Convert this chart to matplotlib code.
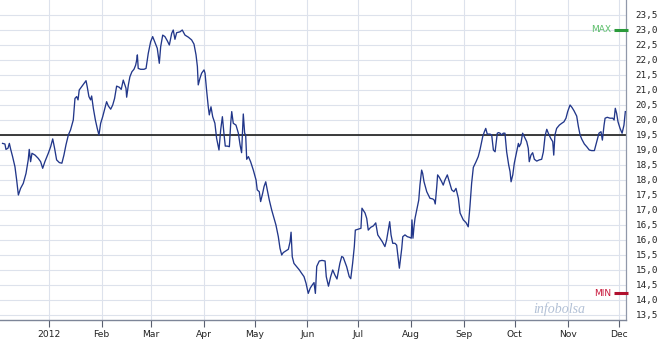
import numpy as np
import matplotlib
matplotlib.use('Agg')
import matplotlib.pyplot as plt
import matplotlib.dates as mdates
import matplotlib.ticker as mticker
import matplotlib.transforms as mtransforms
from datetime import datetime

# ---------------- data ----------------
start_date = datetime(2012, 1, 1)

day_offsets = [
    -27.3, -25.9, -25.3, -24.1, -23.3, -22.5, -21.4, -20.0, -19.0, -18.0,
    -16.7, -15.1, -13.5, -12.2, -11.6, -10.8, -10.0, -8.2, -6.3, -4.9,
    -3.7, -2.4, -0.4, 1.0, 2.2, 3.3, 4.5, 6.1, 7.6, 8.8,
    10.0, 11.4, 12.7, 14.3, 15.3, 16.3, 17.1, 17.8, 19.2, 20.6,
    21.8, 22.5, 23.5, 24.5, 25.1, 26.1, 27.3, 28.4, 29.4, 30.4,
    31.6, 32.9, 33.9, 34.9, 36.3, 37.5, 38.6, 39.8, 41.4, 42.5,
    43.7, 44.5, 45.3, 45.7, 46.7, 47.6, 48.8, 50.0, 51.0, 51.6,
    52.0, 52.5, 53.9, 55.9, 57.1, 58.4, 59.8, 61.0,
    62.4, 63.7, 64.9, 65.7, 66.9, 68.2, 69.6, 70.8, 72.2, 73.1,
    74.1, 75.1, 77.1, 78.4, 80.0, 82.0, 83.9, 85.3, 86.5, 87.3,
    87.8, 88.8, 89.8, 91.2, 91.8, 92.7, 93.7, 94.3, 95.3, 96.3,
    97.6, 98.6, 100.0, 101.0, 102.0, 102.9, 103.7, 104.9, 106.1, 106.9,
    107.5, 108.4, 110.0, 111.4, 112.4, 113.3, 114.3, 115.1, 115.7, 116.3,
    117.3, 118.6, 120.2, 121.8, 122.5, 123.7, 124.5, 125.7, 126.5, 127.5,
    128.4, 129.6, 131.0, 132.4, 133.5, 134.9, 135.9, 136.9, 137.8, 139.4,
    140.8, 141.8, 142.4, 143.1, 144.1, 145.7, 147.3, 148.6, 150.0, 151.2,
    152.5,
    153.7, 155.1, 155.9, 156.7, 157.5, 159.0, 160.6, 162.4, 163.1, 164.4,
    165.7, 166.9, 168.2, 169.4, 171.1, 172.2, 173.1, 175.1, 176.6, 177.5,
    178.6, 179.6, 180.2, 181.9, 183.5, 184.1, 185.9, 186.9, 187.8, 189.2,
    190.8, 192.2, 193.4, 194.7, 196.1, 197.6, 198.6, 199.6, 200.4, 201.2,
    202.2, 203.5, 204.5, 205.3, 206.1, 206.9, 207.5, 208.1, 209.4, 210.8,
    212.0, 213.1, 213.5, 214.1, 214.7, 215.3, 216.3, 217.5, 218.2, 219.2,
    219.8, 220.6, 222.2, 224.1, 225.7, 226.6, 227.2, 228.1, 228.6, 229.6,
    231.0, 231.9, 232.9, 234.3, 235.5, 236.9, 238.2, 239.4, 240.8, 241.8,
    243.7, 245.3, 246.6, 247.6, 248.6, 249.6, 251.2, 252.5, 253.5, 254.3,
    255.1, 256.1, 256.9, 257.8, 259.4, 260.4, 261.4, 262.4, 262.9, 263.7,
    264.5, 265.3, 266.3, 267.2, 268.2, 269.2, 270.4, 271.2, 271.8, 272.8,
    273.7, 275.1, 276.1, 276.6, 277.6, 278.6, 279.6, 281.0, 281.9, 282.5,
    283.5, 284.5, 285.5, 286.9, 288.4, 289.8, 290.8, 291.8, 292.8, 293.7,
    295.1, 296.3, 296.9, 297.6, 298.6, 300.2, 301.6, 302.9, 304.1, 305.1,
    306.5, 307.6, 308.8, 310.4, 311.4, 312.4, 313.4, 314.9, 316.3, 317.8,
    319.2, 320.8, 322.2, 323.5, 324.7, 325.5, 326.5, 327.1, 328.4, 330.0,
    331.6, 332.4, 333.1, 333.9, 334.7, 335.9, 337.1, 338.2, 339.0,
]

prices = [
    19.22, 19.20, 19.02, 19.06, 19.22, 19.02, 18.78, 18.44, 18.00, 17.50,
    17.72, 17.89, 18.22, 18.67, 19.02, 18.61, 18.89, 18.83, 18.72, 18.61,
    18.39, 18.61, 18.89, 19.11, 19.37, 19.06, 18.67, 18.58, 18.56, 18.83,
    19.17, 19.50, 19.67, 20.00, 20.72, 20.78, 20.67, 21.00, 21.11, 21.22,
    21.31, 21.11, 20.78, 20.67, 20.80, 20.39, 20.00, 19.72, 19.50, 19.89,
    20.11, 20.39, 20.61, 20.47, 20.36, 20.50, 20.72, 21.13, 21.09, 21.02,
    21.33, 21.20, 21.06, 20.76, 21.17, 21.44, 21.61, 21.69, 21.83, 22.00,
    22.17, 21.72, 21.69, 21.69, 21.72, 22.22, 22.61, 22.78,
    22.58, 22.39, 21.89, 22.44, 22.83, 22.78, 22.64, 22.50, 22.89, 23.00,
    22.69, 22.91, 22.94, 23.00, 22.83, 22.76, 22.67, 22.53, 22.17, 21.78,
    21.17, 21.39, 21.56, 21.67, 21.56, 21.00, 20.44, 20.17, 20.44, 20.11,
    19.89, 19.39, 19.00, 19.67, 20.11, 19.56, 19.13, 19.13, 19.11, 19.89,
    20.28, 19.89, 19.83, 19.56, 19.17, 18.91, 20.20, 19.56, 19.50, 18.69,
    18.78, 18.61, 18.33, 18.00, 17.67, 17.61, 17.28, 17.56, 17.78, 17.94,
    17.67, 17.33, 17.00, 16.72, 16.50, 16.11, 15.72, 15.50, 15.58, 15.64,
    15.69, 15.94, 16.26, 15.44, 15.22, 15.11, 15.00, 14.89, 14.78, 14.56,
    14.22,
    14.40, 14.52, 14.58, 14.22, 15.12, 15.30, 15.32, 15.30, 14.78, 14.46,
    14.78, 15.00, 14.83, 14.70, 15.22, 15.45, 15.42, 15.11, 14.78, 14.71,
    15.22, 15.78, 16.33, 16.36, 16.39, 17.06, 16.90, 16.72, 16.33, 16.42,
    16.47, 16.57, 16.17, 16.06, 15.94, 15.78, 16.00, 16.33, 16.61, 16.17,
    15.89, 15.89, 15.83, 15.44, 15.06, 15.44, 15.72, 16.11, 16.17, 16.11,
    16.09, 16.06, 16.67, 16.06, 16.44, 16.72, 17.00, 17.33, 17.83, 18.33,
    18.22, 17.94, 17.61, 17.39, 17.37, 17.33, 17.20, 17.78, 18.17, 18.09,
    17.94, 17.83, 18.00, 18.17, 17.94, 17.67, 17.61, 17.72, 17.39, 16.90,
    16.67, 16.58, 16.44, 17.11, 17.89, 18.42, 18.61, 18.78, 19.00, 19.22,
    19.44, 19.61, 19.72, 19.53, 19.53, 19.50, 19.00, 18.94, 19.17, 19.56,
    19.58, 19.56, 19.50, 19.56, 19.56, 18.94, 18.50, 18.28, 17.94, 18.17,
    18.56, 18.94, 19.22, 19.11, 19.22, 19.56, 19.44, 19.28, 19.06, 18.61,
    18.83, 18.91, 18.69, 18.63, 18.67, 18.69, 18.94, 19.47, 19.69, 19.56,
    19.39, 19.28, 18.83, 19.50, 19.72, 19.83, 19.89, 19.94, 20.06, 20.28,
    20.50, 20.42, 20.31, 20.13, 19.78, 19.50, 19.36, 19.20, 19.11, 19.00,
    18.98, 18.98, 19.28, 19.56, 19.61, 19.33, 19.83, 20.06, 20.09, 20.06,
    20.06, 20.00, 20.39, 20.22, 19.94, 19.72, 19.56, 19.83, 20.28,
]

reference_level = 19.5
month_labels = ['2012', 'Feb', 'Mar', 'Apr', 'May', 'Jun',
                'Jul', 'Aug', 'Sep', 'Oct', 'Nov', 'Dec']
y_tick_values = [13.5, 14.0, 14.5, 15.0, 15.5, 16.0, 16.5, 17.0, 17.5, 18.0, 18.5,
                 19.0, 19.5, 20.0, 20.5, 21.0, 21.5, 22.0, 22.5, 23.0, 23.5]
watermark = 'infobolsa'

# ---------------- figure ----------------
W, H = 661, 346
fig = plt.figure(figsize=(W / 100, H / 100), dpi=100)
fig.patch.set_facecolor('white')
ax = fig.add_axes([0, 26 / H, 626 / W, 320 / H])
ax.set_facecolor('white')

base = mdates.date2num(start_date)
xs = base + np.array(day_offsets)

ax.plot(xs, prices, color='#22378a', lw=0.95, zorder=3)
ax.axhline(reference_level, color='#1c1c1c', lw=1.2, zorder=2)

ax.set_xlim(base - 28.8, base + 339.4)
ax.set_ylim(13.333, 24.0)

# x axis: months
ax.xaxis.set_major_locator(mdates.MonthLocator())
def month_fmt(v, pos):
    d = mdates.num2date(v)
    return month_labels[d.month - 1]
ax.xaxis.set_major_formatter(mticker.FuncFormatter(month_fmt))
ax.tick_params(axis='x', direction='out', length=5, width=0.8, color='#5a6070',
               pad=2, labelsize=6.6, labelcolor='#222222')

# y axis on right
ax.yaxis.tick_right()
ax.set_yticks(y_tick_values)
ax.set_yticklabels([f"{v:.1f}".replace('.', ',') for v in y_tick_values],
                   family='DejaVu Sans Mono', fontsize=6.7, color='#222222')
ax.tick_params(axis='y', length=0, pad=7)

ax.grid(True, color='#dde2ec', lw=0.8, zorder=0)
ax.set_axisbelow(True)

for s in ('top', 'left'):
    ax.spines[s].set_visible(False)
ax.spines['right'].set_color('#9098aa')
ax.spines['right'].set_linewidth(0.9)
ax.spines['bottom'].set_color('#7d8598')
ax.spines['bottom'].set_linewidth(1.0)

# MAX / MIN markers
trans = mtransforms.blended_transform_factory(ax.transAxes, ax.transData)
ymax = max(prices)
ymin = min(prices)
ax.plot([614 / 626, 1.003], [ymax, ymax], transform=trans, color='#2a9a3a',
        lw=2.2, clip_on=False, solid_capstyle='butt', zorder=4)
ax.text(611.5 / 626, ymax, 'MAX', transform=trans, ha='right', va='center',
        color='#5cbf6a', fontsize=6.5, zorder=4)
ax.plot([614 / 626, 1.003], [ymin, ymin], transform=trans, color='#b0102e',
        lw=2.2, clip_on=False, solid_capstyle='butt', zorder=4)
ax.text(611.5 / 626, ymin, 'MIN', transform=trans, ha='right', va='center',
        color='#c8173a', fontsize=6.5, zorder=4)

# watermark
ax.text(559 / 626, 13.7, watermark, transform=trans, ha='center', va='center',
        family='Liberation Serif', style='italic', fontsize=10,
        color='#b3c1d6', zorder=1)

fig.savefig('out.png', dpi=100, facecolor='white')
